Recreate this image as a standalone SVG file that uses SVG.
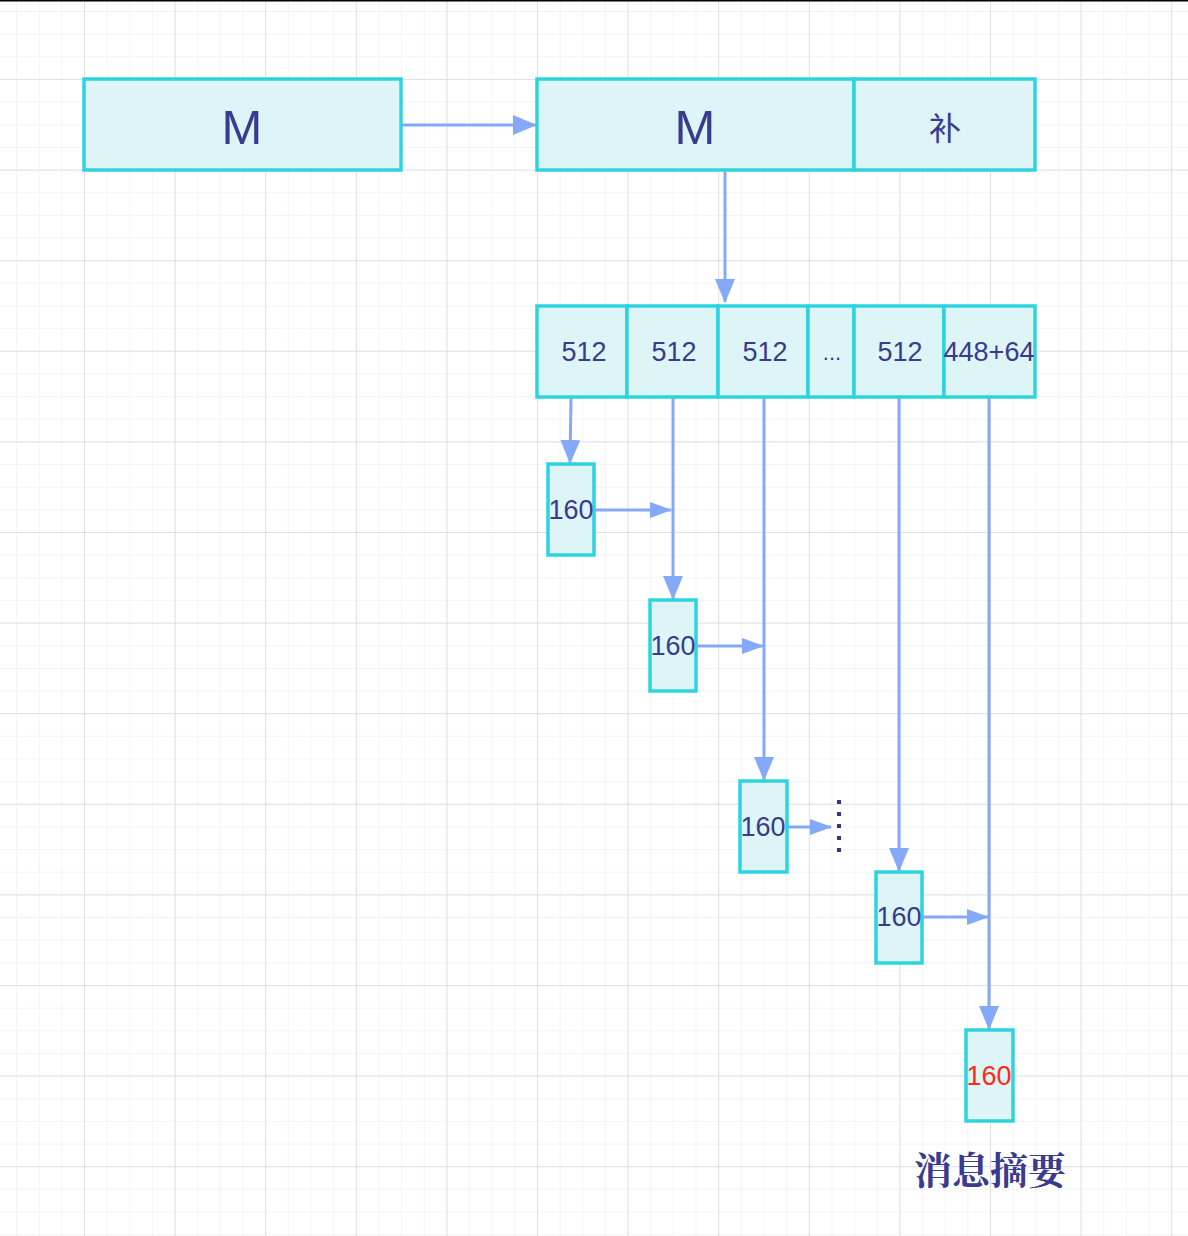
<svg xmlns="http://www.w3.org/2000/svg" width="1188" height="1236" viewBox="0 0 1188 1236">
<style>
.box{fill:#ddf5f7;stroke:#2ed3e0;stroke-width:3.5}
.t{font-family:"Liberation Sans",Arial,sans-serif;fill:#3a3a8e;text-anchor:middle;dominant-baseline:central}
.c{stroke:#85a9f9;stroke-width:3;fill:none}
</style>
<defs>
<pattern id="minor" x="-6.6" y="-11.6" width="22.65" height="22.65" patternUnits="userSpaceOnUse">
<path d="M0 0V22.65M0 0H22.65" stroke="#e9e9e9" stroke-width="1" fill="none"/>
</pattern>
<pattern id="major" x="-6.6" y="-11.6" width="90.6" height="90.6" patternUnits="userSpaceOnUse">
<path d="M0 0V90.6M0 0H90.6" stroke="#dadada" stroke-width="1.5" fill="none"/>
</pattern>
<marker id="ah" viewBox="0 0 24 20" refX="23" refY="10" markerWidth="24" markerHeight="20" markerUnits="userSpaceOnUse" orient="auto">
<path d="M0 0L24 10L0 20Z" fill="#85a9f9"/>
</marker>
<marker id="as" viewBox="0 0 22 16" refX="21" refY="8" markerWidth="22" markerHeight="16" markerUnits="userSpaceOnUse" orient="auto">
<path d="M0 0L22 8L0 16Z" fill="#85a9f9"/>
</marker>
</defs>
<rect width="1188" height="1236" fill="#ffffff"/>
<rect width="1188" height="1236" fill="url(#minor)"/>
<rect width="1188" height="1236" fill="url(#major)"/>
<line x1="0" y1="0.5" x2="1188" y2="0.5" stroke="#000" stroke-width="2"/>

<g id="connectors">
<line class="c" x1="401" y1="125" x2="536" y2="125" marker-end="url(#ah)"/>
<line class="c" x1="725" y1="170" x2="725" y2="302" marker-end="url(#ah)"/>
<line class="c" x1="571" y1="397" x2="570" y2="463" marker-end="url(#ah)"/>
<line class="c" x1="594" y1="510" x2="671" y2="510" marker-end="url(#as)"/>
<line class="c" x1="673" y1="397" x2="673" y2="599" marker-end="url(#ah)"/>
<line class="c" x1="696" y1="646" x2="763" y2="646" marker-end="url(#as)"/>
<line class="c" x1="764" y1="397" x2="764" y2="780" marker-end="url(#ah)"/>
<line class="c" x1="787" y1="827" x2="831" y2="827" marker-end="url(#as)"/>
<line class="c" x1="899" y1="397" x2="899" y2="871" marker-end="url(#ah)"/>
<line class="c" x1="922" y1="917" x2="988" y2="917" marker-end="url(#as)"/>
<line class="c" x1="989" y1="397" x2="989" y2="1029" marker-end="url(#ah)"/>
<line x1="839" y1="800" x2="839" y2="856" stroke="#333388" stroke-width="4" stroke-dasharray="4 8"/>
</g>

<g id="m1"><rect class="box" x="84" y="79" width="317" height="91"/><text class="t" x="242" y="127" font-size="49">M</text></g>
<g id="m2"><rect class="box" x="537" y="79" width="317" height="91"/><text class="t" x="695" y="127" font-size="49">M</text></g>
<g id="pad"><rect class="box" x="854" y="79" width="181" height="91"/><text class="t" x="945" y="126" font-size="32" style="font-family:'Noto Sans CJK SC',sans-serif">补</text></g>

<g id="b1"><rect class="box" x="537" y="306" width="90" height="91"/><text class="t" x="584" y="352" font-size="27">512</text></g>
<g id="b2"><rect class="box" x="627" y="306" width="91" height="91"/><text class="t" x="674" y="352" font-size="27">512</text></g>
<g id="b3"><rect class="box" x="718" y="306" width="90" height="91"/><text class="t" x="765" y="352" font-size="27">512</text></g>
<g id="b4"><rect class="box" x="808" y="306" width="46" height="91"/><text class="t" x="832" y="352" font-size="22">...</text></g>
<g id="b5"><rect class="box" x="854" y="306" width="90" height="91"/><text class="t" x="900" y="352" font-size="27">512</text></g>
<g id="b6"><rect class="box" x="944" y="306" width="91" height="91"/><text class="t" x="989" y="352" font-size="27">448+64</text></g>

<g id="h1"><rect class="box" x="548" y="464" width="46" height="91"/><text class="t" x="571" y="510" font-size="27">160</text></g>
<g id="h2"><rect class="box" x="650" y="600" width="46" height="91"/><text class="t" x="673" y="646" font-size="27">160</text></g>
<g id="h3"><rect class="box" x="740" y="781" width="47" height="91"/><text class="t" x="763" y="827" font-size="27">160</text></g>
<g id="h4"><rect class="box" x="876" y="872" width="46" height="91"/><text class="t" x="899" y="917" font-size="27">160</text></g>
<g id="h5"><rect class="box" x="966" y="1030" width="47" height="91"/><text class="t" x="989" y="1076" font-size="27" style="fill:#ff2a1a">160</text></g>

<g id="label"><text x="990" y="1167" text-anchor="middle" dominant-baseline="central" font-size="38" font-weight="bold" fill="#3a3a8e" font-family="'Noto Serif CJK SC','Noto Sans CJK SC',serif">消息摘要</text></g>
</svg>
